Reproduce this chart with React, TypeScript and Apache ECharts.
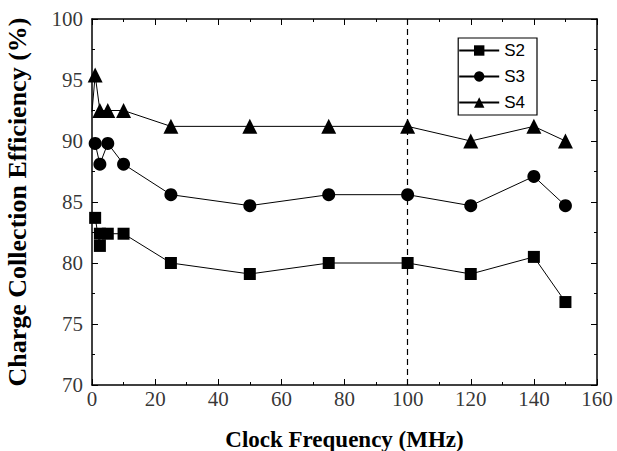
import React, { useEffect, useRef } from "react";
import * as echarts from "echarts";

const s2X = [1, 2.5, 2.5, 5, 10, 25, 50, 75, 100, 120, 140, 150];
const s2Y = [83.7, 81.4, 82.4, 82.4, 82.4, 80.0, 79.1, 80.0, 80.0, 79.1, 80.5, 76.8];
const s3X = [1, 2.5, 5, 10, 25, 50, 75, 100, 120, 140, 150];
const s3Y = [89.8, 88.1, 89.8, 88.1, 85.6, 84.7, 85.6, 85.6, 84.7, 87.1, 84.7];
const s4X = [0, 1, 2.5, 5, 10, 25, 50, 75, 100, 120, 140, 150];
const s4Y = [92.4, 95.4, 92.5, 92.5, 92.5, 91.2, 91.2, 91.2, 91.2, 90.0, 91.2, 90.0];
const s4Sym = [false, true, true, true, true, true, true, true, true, true, true, true];
const xTicks = [0, 20, 40, 60, 80, 100, 120, 140, 160];
const yTicks = [70, 75, 80, 85, 90, 95, 100];
const dashX = 100;

const serif = "Liberation Serif";

export default function App() {
  const ref = useRef<HTMLDivElement>(null);
  useEffect(() => {
    const chart = echarts.init(ref.current!, null, { renderer: "svg" });
    const mkLine = () => ({ show: true, onZero: false, lineStyle: { color: "#000", width: 1.5 } });
    const mkTick = () => ({ inside: true, length: 6, lineStyle: { color: "#000", width: 1 } });
    const mkMinor = () => ({ show: true, splitNumber: 2, length: 3, lineStyle: { color: "#000", width: 1 } });
    const zip = (xs: number[], ys: number[]) => xs.map((x, i) => [x, ys[i]]);
    const tickText = { fontFamily: serif, fontSize: 21, color: "#000" };
    chart.setOption({
      animation: false,
      backgroundColor: "#fff",
      textStyle: { fontFamily: serif },
      grid: { left: 92, top: 19, right: 20, bottom: 66, outerBoundsMode: "none", containLabel: false },
      legend: {
        right: 80,
        top: 38,
        orient: "vertical",
        itemWidth: 40,
        itemHeight: 13,
        itemGap: 9,
        padding: [4, 12, 4, 0],
        borderColor: "#000",
        borderWidth: 1.2,
        textStyle: { fontFamily: "Liberation Sans", fontSize: 17, color: "#000" },
        data: ["S2", "S3", "S4"],
      },
      xAxis: [
        {
          type: "value", min: 0, max: 160, interval: 20, position: "bottom",
          name: "Clock Frequency (MHz)", nameLocation: "middle", nameGap: 43,
          nameTextStyle: { fontFamily: serif, fontWeight: "bold", fontSize: 23, color: "#000" },
          axisLine: mkLine(), splitLine: { show: false },
          axisTick: mkTick(), minorTick: mkMinor(),
          axisLabel: { show: false },
        },
        {
          type: "value", min: 0, max: 160, interval: 20, position: "top",
          axisLine: mkLine(), splitLine: { show: false },
          axisTick: mkTick(), minorTick: mkMinor(),
          axisLabel: { show: false },
        },
      ],
      yAxis: [
        {
          type: "value", min: 70, max: 100, interval: 5, position: "left",
          name: "Charge Collection Efficiency (%)", nameLocation: "middle", nameGap: 62,
          nameTextStyle: { fontFamily: serif, fontWeight: "bold", fontSize: 26, color: "#000" },
          axisLine: mkLine(), splitLine: { show: false },
          axisTick: mkTick(), minorTick: mkMinor(),
          axisLabel: { show: false },
        },
        {
          type: "value", min: 70, max: 100, interval: 5, position: "right",
          axisLine: mkLine(), splitLine: { show: false },
          axisTick: mkTick(), minorTick: mkMinor(),
          axisLabel: { show: false },
        },
      ],
      series: [
        {
          name: "xTickLabels", type: "scatter", silent: true, clip: false,
          data: xTicks.map((v) => [v, yTicks[0]]), symbolSize: 0,
          label: { show: true, position: "bottom", distance: 3, formatter: (p: any) => String(p.value[0]), ...tickText },
        },
        {
          name: "yTickLabels", type: "scatter", silent: true, clip: false,
          data: yTicks.map((v) => [xTicks[0], v]), symbolSize: 0,
          label: { show: true, position: "left", distance: 9, formatter: (p: any) => String(p.value[1]), ...tickText },
        },
        {
          name: "S2", type: "line", data: zip(s2X, s2Y), symbol: "rect", symbolSize: 12,
          itemStyle: { color: "#000" }, lineStyle: { color: "#000", width: 1 },
          markLine: {
            silent: true, symbol: "none", label: { show: false },
            lineStyle: { color: "#000", type: [6, 4], width: 1.2 },
            data: [{ xAxis: dashX }],
          },
        },
        {
          name: "S3", type: "line", data: zip(s3X, s3Y), symbol: "circle", symbolSize: 13,
          itemStyle: { color: "#000" }, lineStyle: { color: "#000", width: 1 },
        },
        {
          name: "S4", type: "line",
          data: s4X.map((x, i) => ({ value: [x, s4Y[i]], symbolSize: s4Sym[i] ? 15 : 0 })),
          symbol: "triangle", symbolSize: 15,
          itemStyle: { color: "#000" }, lineStyle: { color: "#000", width: 1 },
        },
      ],
    });
    return () => chart.dispose();
  }, []);
  return <div ref={ref} style={{ width: 617, height: 451, position: "absolute", left: 0, top: 0 }} />;
}
